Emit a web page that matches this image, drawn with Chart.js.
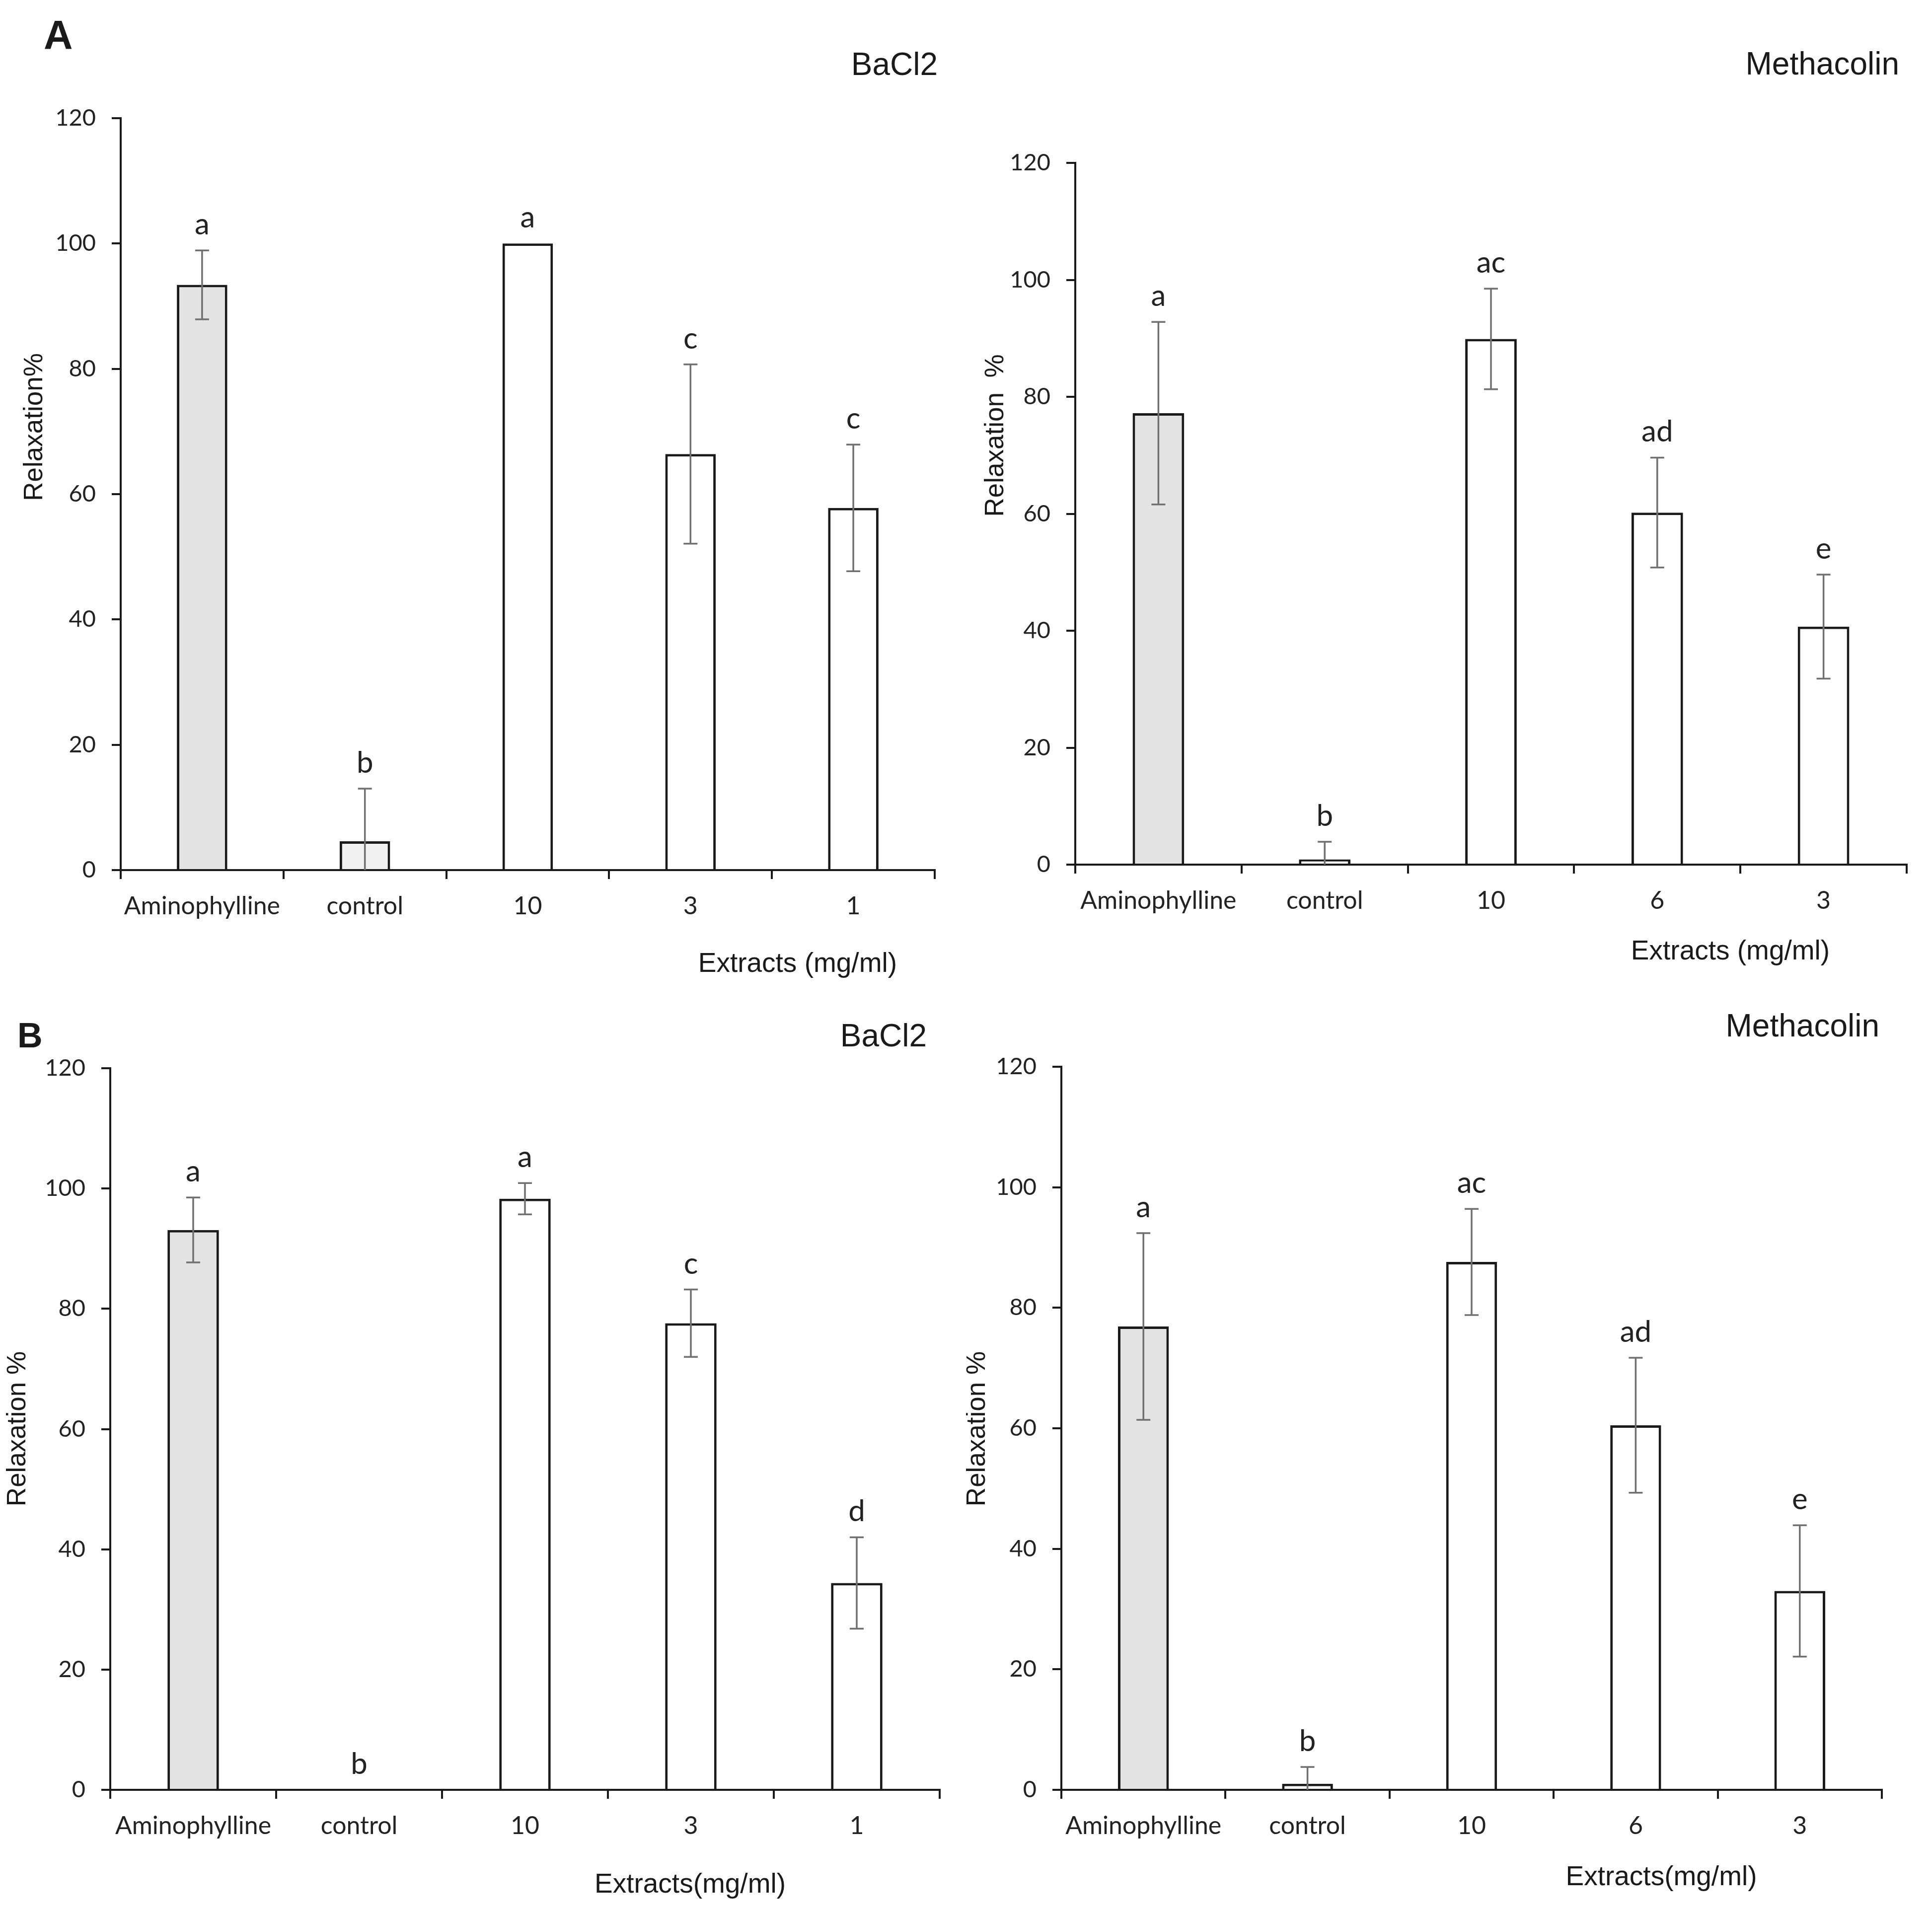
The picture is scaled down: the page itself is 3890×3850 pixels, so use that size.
<!DOCTYPE html>
<html>
<head>
<meta charset="utf-8">
<script src="https://cdn.jsdelivr.net/npm/chart.js@4.4.1/dist/chart.umd.min.js"></script>
<style>
html,body{margin:0;padding:0;background:#fff;}
#wrap{position:relative;width:3890px;height:3850px;background:#fff;overflow:hidden;}
canvas{position:absolute;display:block;}
</style>
</head>
<body>
<div id="wrap">
<canvas id="cAL" width="1945" height="1990" style="left:0px;top:0px;width:1945px;height:1990px"></canvas>
<canvas id="cAR" width="1945" height="1990" style="left:1945px;top:0px;width:1945px;height:1990px"></canvas>
<canvas id="cBL" width="1945" height="1860" style="left:0px;top:1990px;width:1945px;height:1860px"></canvas>
<canvas id="cBR" width="1945" height="1860" style="left:1945px;top:1990px;width:1945px;height:1860px"></canvas>
</div>
<script>
// ---------------- DATA ----------------
const bacl2Categories = ['Aminophylline', 'control', '10', '3', '1'];
const methCategories  = ['Aminophylline', 'control', '10', '6', '3'];
const yTickValues = [0, 20, 40, 60, 80, 100, 120];

// Panel A - BaCl2
const aBaclMeans   = [93.4, 4.6, 100.0, 66.4, 57.8];
const aBaclErrors  = [5.5, 8.4, 0, 14.3, 10.1];
const aBaclLetters = ['a', 'b', 'a', 'c', 'c'];

// Panel A - Methacolin
const aMethMeans   = [77.2, 0.9, 89.9, 60.2, 40.7];
const aMethErrors  = [15.6, 3.0, 8.6, 9.4, 8.9];
const aMethLetters = ['a', 'b', 'ac', 'ad', 'e'];

// Panel B - BaCl2
const bBaclMeans   = [93.1, 0, 98.3, 77.6, 34.4];
const bBaclErrors  = [5.4, 0, 2.6, 5.6, 7.6];
const bBaclLetters = ['a', 'b', 'a', 'c', 'd'];

// Panel B - Methacolin
const bMethMeans   = [76.9, 1.0, 87.6, 60.5, 33.0];
const bMethErrors  = [15.5, 2.8, 8.8, 11.2, 10.9];
const bMethLetters = ['a', 'b', 'ac', 'ad', 'e'];

// ---------------- STYLE / LAYOUT ----------------
const GRAY = '#e4e4e4', LIGHT = '#f1f1f1', WHITE = '#ffffff';
const INK = '#1a1a1a', TICKINK = '#222222', ERRINK = '#707070';
const TITLE_FONT = '"Liberation Sans", Arial, sans-serif';
const TICK_FONT = 'Lato, "Noto Sans", sans-serif';

function makeDecor(spec) {
  return {
    id: 'decor_' + spec.id,
    afterDatasetsDraw(chart) {
      const ctx = chart.ctx, xs = chart.scales.x, ys = chart.scales.y;
      const ds = chart.data.datasets[0];
      ctx.save();
      ctx.strokeStyle = ERRINK;
      ctx.lineWidth = 3.5;
      ds.data.forEach((m, i) => {
        const e = ds.errors[i];
        if (!e) return;
        const cx = xs.getPixelForValue(i);
        const yt = ys.getPixelForValue(m + e);
        const lowVal = Math.max(0, m - e);
        const yb = ys.getPixelForValue(lowVal);
        ctx.beginPath();
        ctx.moveTo(cx, yt); ctx.lineTo(cx, yb);
        ctx.moveTo(cx - 14, yt); ctx.lineTo(cx + 14, yt);
        if (m - e > 0) { ctx.moveTo(cx - 14, yb); ctx.lineTo(cx + 14, yb); }
        ctx.stroke();
      });
      // significance letters
      ctx.fillStyle = TICKINK;
      ctx.font = '60px ' + TICK_FONT;
      ctx.textAlign = 'center';
      ctx.textBaseline = 'alphabetic';
      ds.data.forEach((m, i) => {
        const e = ds.errors[i] || 0;
        const cx = xs.getPixelForValue(i);
        const yt = ys.getPixelForValue(m + e);
        ctx.fillText(ds.letters[i], cx, yt - 32);
      });
      ctx.restore();
    },
    afterDraw(chart) {
      const ctx = chart.ctx;
      ctx.save();
      ctx.fillStyle = INK;
      spec.texts.forEach(t => {
        ctx.font = t.font;
        ctx.textAlign = t.align || 'left';
        ctx.textBaseline = t.base || 'alphabetic';
        const x = t.x - spec.ox, y = t.y - spec.oy;
        if (t.rot) {
          ctx.save();
          ctx.translate(x, y);
          ctx.rotate(-Math.PI / 2);
          ctx.fillText(t.t, 0, 0);
          ctx.restore();
        } else {
          ctx.fillText(t.t, x, y);
        }
      });
      ctx.restore();
    }
  };
}

const panels = [
  { id: 'cAL', ox: 0, oy: 0, pad: {left: 93, top: 238, right: 63, bottom: 118},
    labels: bacl2Categories, means: aBaclMeans, errors: aBaclErrors, letters: aBaclLetters,
    fills: [GRAY, LIGHT, WHITE, WHITE, WHITE],
    texts: [
      {t: 'A', x: 88, y: 98, font: 'bold 81px ' + TITLE_FONT},
      {t: 'BaCl2', x: 1888, y: 151, font: '64px ' + TITLE_FONT, align: 'right'},
      {t: 'Extracts (mg/ml)', x: 1806, y: 1942, font: '55px ' + TITLE_FONT, align: 'right', base: 'middle'},
      {t: 'Relaxation%', x: 70, y: 860, font: '53px ' + TITLE_FONT, align: 'center', base: 'middle', rot: true}
    ]},
  { id: 'cAR', ox: 1945, oy: 0, pad: {left: 70, top: 328, right: 51, bottom: 129},
    labels: methCategories, means: aMethMeans, errors: aMethErrors, letters: aMethLetters,
    fills: [GRAY, WHITE, WHITE, WHITE, WHITE],
    texts: [
      {t: 'Methacolin', x: 3824, y: 150, font: '64px ' + TITLE_FONT, align: 'right'},
      {t: 'Extracts (mg/ml)', x: 3484, y: 1917, font: '55px ' + TITLE_FONT, align: 'center', base: 'middle'},
      {t: 'Relaxation  %', x: 2005, y: 877, font: '53px ' + TITLE_FONT, align: 'center', base: 'middle', rot: true}
    ]},
  { id: 'cBL', ox: 0, oy: 1990, pad: {left: 72, top: 161, right: 53, bottom: 126},
    labels: bacl2Categories, means: bBaclMeans, errors: bBaclErrors, letters: bBaclLetters,
    fills: [GRAY, WHITE, WHITE, WHITE, WHITE],
    texts: [
      {t: 'B', x: 35, y: 2109, font: 'bold 70px ' + TITLE_FONT},
      {t: 'BaCl2', x: 1866, y: 2107, font: '64px ' + TITLE_FONT, align: 'right'},
      {t: 'Extracts(mg/ml)', x: 1582, y: 3796, font: '55px ' + TITLE_FONT, align: 'right', base: 'middle'},
      {t: 'Relaxation %', x: 36, y: 2877, font: '53px ' + TITLE_FONT, align: 'center', base: 'middle', rot: true}
    ]},
  { id: 'cBR', ox: 1945, oy: 1990, pad: {left: 42, top: 158, right: 101, bottom: 126},
    labels: methCategories, means: bMethMeans, errors: bMethErrors, letters: bMethLetters,
    fills: [GRAY, WHITE, WHITE, WHITE, WHITE],
    texts: [
      {t: 'Methacolin', x: 3784, y: 2087, font: '64px ' + TITLE_FONT, align: 'right'},
      {t: 'Extracts(mg/ml)', x: 3345, y: 3781, font: '55px ' + TITLE_FONT, align: 'center', base: 'middle'},
      {t: 'Relaxation %', x: 1968, y: 2877, font: '53px ' + TITLE_FONT, align: 'center', base: 'middle', rot: true}
    ]}
];

panels.forEach(p => {
  const ctx = document.getElementById(p.id).getContext('2d');
  new Chart(ctx, {
    type: 'bar',
    data: {
      labels: p.labels,
      datasets: [{
        data: p.means,
        errors: p.errors,
        letters: p.letters,
        backgroundColor: p.fills,
        borderColor: INK,
        borderWidth: 5,
        borderSkipped: 'start',
        barPercentage: 0.31,
        categoryPercentage: 1.0
      }]
    },
    options: {
      responsive: false,
      maintainAspectRatio: false,
      animation: false,
      devicePixelRatio: 1,
      layout: { padding: p.pad },
      plugins: { legend: { display: false }, tooltip: { enabled: false }, title: { display: false } },
      scales: {
        x: {
          type: 'category',
          offset: true,
          grid: { offset: true, drawOnChartArea: false, drawTicks: true, tickLength: 18, color: INK, lineWidth: 4 },
          border: { display: true, color: INK, width: 4 },
          ticks: { color: TICKINK, font: { family: TICK_FONT, size: 50 }, padding: 25, maxRotation: 0, autoSkip: false },
          afterFit: s => { s.height = 120; }
        },
        y: {
          min: yTickValues[0],
          max: yTickValues[yTickValues.length - 1],
          ticks: { stepSize: yTickValues[1] - yTickValues[0], color: TICKINK, font: { family: TICK_FONT, size: 47 }, padding: 32 },
          grid: { drawOnChartArea: false, drawTicks: true, tickLength: 18, color: INK, lineWidth: 4 },
          border: { display: true, color: INK, width: 4 },
          afterFit: s => { s.width = 150; }
        }
      }
    },
    plugins: [makeDecor(p)]
  });
});
</script>
</body>
</html>
